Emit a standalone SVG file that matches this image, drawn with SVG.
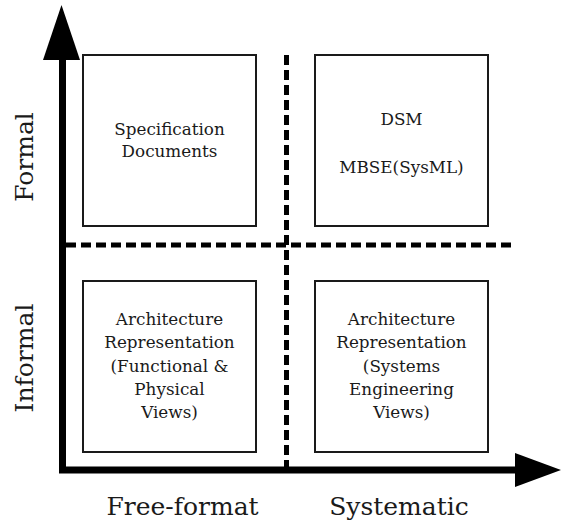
<svg xmlns="http://www.w3.org/2000/svg" width="562" height="525" viewBox="0 0 562 525">
  <style>
    .box { fill: #ffffff; stroke: #1a1a1a; stroke-width: 2; }
    .lbl { font-family: "DejaVu Serif", "Liberation Serif", serif; font-size: 16.8px; fill: #1a1a1a; text-anchor: middle; }
    .axis-lbl { font-family: "DejaVu Serif", "Liberation Serif", serif; font-size: 25px; fill: #1a1a1a; text-anchor: middle; }
    .axis { stroke: #000000; stroke-width: 7; fill: none; }
    .dash { stroke: #000000; stroke-width: 5; stroke-dasharray: 10 5; fill: none; }
  </style>
  <rect width="562" height="525" fill="#ffffff"/>

  <!-- quadrant dividers and axes -->
  <g id="connectors">
    <line class="dash" x1="66" y1="245" x2="514" y2="245"/>
    <line class="dash" x1="286.5" y1="55" x2="286.5" y2="467"/>
    <line class="axis" x1="62.5" y1="55" x2="62.5" y2="473"/>
    <line class="axis" x1="59" y1="470" x2="518" y2="470"/>
    <polygon points="43,60 61.5,5 80,60" fill="#000000"/>
    <polygon points="515,453 561,470 515,487" fill="#000000"/>
  </g>

  <g id="box-formal-free">
    <rect class="box" x="83" y="55" width="173" height="171"/>
    <text class="lbl" x="169.5" y="135">Specification</text>
    <text class="lbl" x="169.5" y="157">Documents</text>
  </g>

  <g id="box-formal-systematic">
    <rect class="box" x="315" y="55" width="173" height="171"/>
    <text class="lbl" x="401.5" y="125">DSM</text>
    <text class="lbl" x="401.5" y="173">MBSE(SysML)</text>
  </g>

  <g id="box-informal-free">
    <rect class="box" x="83" y="281" width="173" height="171"/>
    <text class="lbl" x="169.5" y="325">Architecture</text>
    <text class="lbl" x="169.5" y="348">Representation</text>
    <text class="lbl" x="169.5" y="372">(Functional &amp;</text>
    <text class="lbl" x="169.5" y="395">Physical</text>
    <text class="lbl" x="169.5" y="418">Views)</text>
  </g>

  <g id="box-informal-systematic">
    <rect class="box" x="315" y="281" width="173" height="171"/>
    <text class="lbl" x="401.5" y="325">Architecture</text>
    <text class="lbl" x="401.5" y="348">Representation</text>
    <text class="lbl" x="401.5" y="372">(Systems</text>
    <text class="lbl" x="401.5" y="395">Engineering</text>
    <text class="lbl" x="401.5" y="418">Views)</text>
  </g>

  <g id="axis-labels">
    <text class="axis-lbl" transform="translate(33,157) rotate(-90)">Formal</text>
    <text class="axis-lbl" transform="translate(33,358) rotate(-90)">Informal</text>
    <text class="axis-lbl" x="182.5" y="515">Free-format</text>
    <text class="axis-lbl" x="399" y="515">Systematic</text>
  </g>
</svg>
